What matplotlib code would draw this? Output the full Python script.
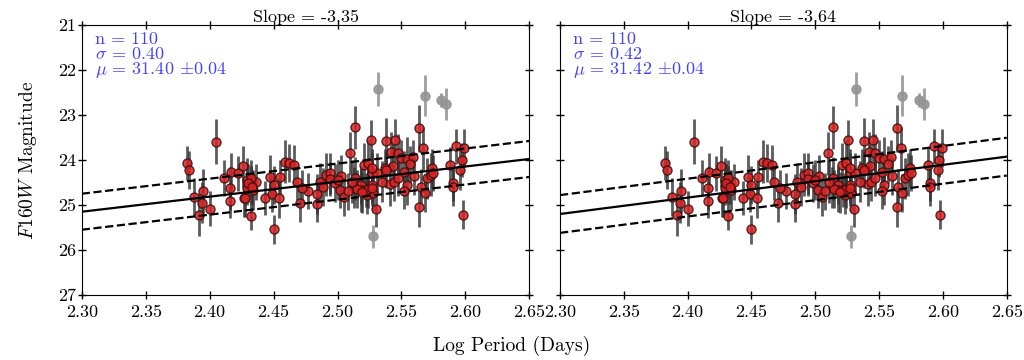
import numpy as np
import matplotlib.pyplot as plt
from matplotlib.ticker import FormatStrFormatter, MultipleLocator

plt.rcParams['font.family'] = 'serif'
plt.rcParams['font.serif'] = ['cmr10', 'DejaVu Serif']
plt.rcParams['mathtext.fontset'] = 'cm'
plt.rcParams['axes.unicode_minus'] = False

# log period and F160W magnitude of the cepheids used in the fit
logp = [2.405, 2.382, 2.384, 2.395, 2.388, 2.394, 2.400, 2.392, 2.411, 2.417,
        2.422, 2.426, 2.416, 2.416, 2.427, 2.429, 2.432, 2.436, 2.434, 2.429,
        2.428, 2.432, 2.443, 2.447, 2.450, 2.449, 2.454, 2.455, 2.459, 2.462,
        2.466, 2.468, 2.471, 2.477, 2.450, 2.432, 2.514, 2.526, 2.510, 2.484,
        2.484, 2.486, 2.491, 2.494, 2.494, 2.498, 2.503, 2.502, 2.505, 2.514,
        2.513, 2.518, 2.521, 2.524, 2.522, 2.523, 2.528, 2.530, 2.527, 2.518,
        2.524, 2.527, 2.538, 2.545, 2.542, 2.547, 2.550, 2.554, 2.559, 2.557,
        2.552, 2.543, 2.537, 2.538, 2.531, 2.527, 2.541, 2.544, 2.554, 2.552,
        2.565, 2.568, 2.570, 2.573, 2.574, 2.564, 2.567, 2.564, 2.575, 2.593,
        2.599, 2.597, 2.588, 2.596, 2.590, 2.590, 2.598, 2.515, 2.519, 2.511,
        2.527, 2.430, 2.433, 2.500, 2.489, 2.472, 2.508, 2.535, 2.547, 2.560]
mag = [23.60, 24.06, 24.22, 24.69, 24.83, 24.95, 25.08, 25.22, 24.41, 24.26,
       24.30, 24.14, 24.63, 24.92, 24.85, 24.44, 24.56, 24.50, 24.67, 24.63,
       24.85, 25.24, 24.85, 24.37, 24.56, 24.76, 24.85, 24.38, 24.04, 24.07,
       24.11, 24.50, 24.95, 24.69, 25.54, 24.41, 23.27, 23.56, 23.85, 24.76,
       24.98, 24.48, 24.33, 24.30, 24.42, 24.52, 24.36, 24.67, 24.83, 24.41,
       24.61, 24.56, 24.11, 24.06, 24.67, 24.78, 24.74, 25.10, 24.30, 24.67,
       24.65, 24.55, 23.57, 23.56, 23.82, 23.84, 23.96, 23.98, 23.93, 24.10,
       24.26, 24.13, 24.18, 24.22, 24.30, 24.18, 24.54, 24.50, 24.56, 24.69,
       24.59, 24.74, 24.41, 24.33, 24.18, 23.30, 23.74, 25.04, 24.30, 23.70,
       23.73, 24.00, 24.11, 24.22, 24.52, 24.61, 25.22, 24.65, 24.72, 24.48,
       24.62, 24.52, 24.60, 24.45, 24.60, 24.62, 24.70, 24.48, 24.40, 24.35]
mag_err = [0.50, 0.38, 0.42, 0.48, 0.42, 0.45, 0.38, 0.48, 0.40, 0.42,
           0.38, 0.45, 0.48, 0.38, 0.42, 0.48, 0.42, 0.40, 0.45, 0.38,
           0.42, 0.32, 0.38, 0.48, 0.42, 0.40, 0.45, 0.38, 0.48, 0.42,
           0.45, 0.38, 0.42, 0.40, 0.32, 0.42, 0.48, 0.45, 0.48, 0.45,
           0.40, 0.42, 0.48, 0.45, 0.38, 0.42, 0.48, 0.40, 0.42, 0.48,
           0.45, 0.42, 0.48, 0.50, 0.38, 0.42, 0.40, 0.38, 0.45, 0.48,
           0.42, 0.40, 0.50, 0.48, 0.45, 0.42, 0.40, 0.48, 0.38, 0.42,
           0.45, 0.48, 0.42, 0.40, 0.45, 0.42, 0.48, 0.42, 0.45, 0.40,
           0.38, 0.42, 0.45, 0.48, 0.42, 0.52, 0.48, 0.45, 0.40, 0.38,
           0.42, 0.38, 0.40, 0.45, 0.40, 0.42, 0.32, 0.42, 0.45, 0.48,
           0.40, 0.42, 0.38, 0.45, 0.42, 0.40, 0.42, 0.45, 0.40, 0.42]

# rejected outliers
out_logp = [2.532, 2.568, 2.581, 2.585, 2.528]
out_mag = [22.43, 22.57, 22.67, 22.76, 25.70]
out_err = [0.38, 0.45, 0.15, 0.35, 0.25]

slopes = [-3.35, -3.64]
zero_mag = [25.15, 25.20]   # fitted magnitude at log P = 2.30
sigmas = [0.40, 0.42]
mus = [31.40, 31.42]
mu_err = [0.04, 0.04]
n_used = [110, 110]

fig = plt.figure(figsize=(10.24, 3.6), dpi=100)
ax_pos = [[0.0798, 0.1806, 0.4372, 0.75], [0.5469, 0.1806, 0.4362, 0.75]]

xline = np.array([2.30, 2.65])
for k in range(2):
    ax = fig.add_axes(ax_pos[k])
    ax.errorbar(out_logp, out_mag, yerr=out_err, fmt='o', color='0.58',
                ms=6.5, elinewidth=2, alpha=0.9, zorder=2)
    ax.errorbar(logp, mag, yerr=mag_err, fmt='none', ecolor='0.2',
                elinewidth=2, alpha=0.8, zorder=3)
    ax.plot(logp, mag, 'o', ms=6.5, mfc='#dc2323', mec='#3a1010', mew=1,
            alpha=0.85, zorder=4)
    yfit = zero_mag[k] + slopes[k] * (xline - 2.30)
    ax.plot(xline, yfit, '-', color='k', lw=1.6, zorder=5)
    ax.plot(xline, yfit - sigmas[k], '--', color='k', lw=1.6, zorder=5)
    ax.plot(xline, yfit + sigmas[k], '--', color='k', lw=1.6, zorder=5)

    ax.set_xlim(2.30, 2.65)
    ax.set_ylim(27, 21)
    ax.xaxis.set_major_locator(MultipleLocator(0.05))
    ax.xaxis.set_major_formatter(FormatStrFormatter('%.2f'))
    ax.yaxis.set_major_locator(MultipleLocator(1))
    ax.tick_params(direction='inout', length=6, width=1, labelsize=13,
                   top=True, right=True)
    ax.tick_params(axis='x', pad=4)
    ax.tick_params(axis='y', pad=1)
    if k == 1:
        ax.tick_params(labelleft=False)
    else:
        ax.set_ylabel('$F160W$ Magnitude', fontsize=14, labelpad=14)
    ax.set_title('Slope = %.2f' % slopes[k], fontsize=13, pad=2)

    txt = 'n = %d\n$\\sigma$ = %.2f\n$\\mu$ = %.2f $\\pm$%.2f' % (
        n_used[k], sigmas[k], mus[k], mu_err[k])
    ax.text(0.03, 0.975, txt, transform=ax.transAxes, color='#4444f2',
            fontsize=13, va='top', ha='left', linespacing=0.9)

fig.text(0.5, 0.025, 'Log Period (Days)', ha='center', fontsize=14)
fig.savefig('out.png', dpi=100)
